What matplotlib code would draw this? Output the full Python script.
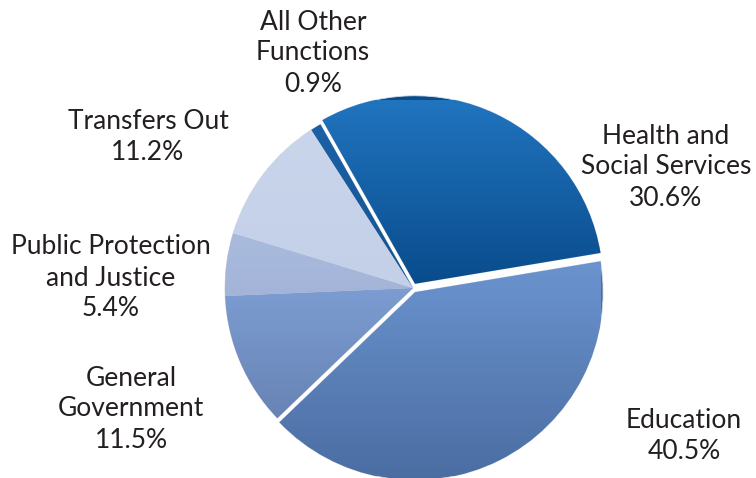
import numpy as np
import matplotlib
matplotlib.use('Agg')
import matplotlib.pyplot as plt
from matplotlib.colors import LinearSegmentedColormap

# share of spending by function (percent), clockwise from the top
labels = ['Health and\nSocial Services', 'Education', 'General\nGovernment',
          'Public Protection\nand Justice', 'Transfers Out', 'All Other\nFunctions']
values = [30.6, 40.5, 11.5, 5.4, 11.2, 0.9]

# top / bottom colour of the vertical gradient on each slice
grad = [('#2175c0', '#094c8c'),
        ('#6b94cf', '#4a6ca1'),
        ('#7c9dd2', '#6883b4'),
        ('#a9bbdd', '#a3b4d8'),
        ('#c9d5eb', '#c3d0e8'),
        ('#1c61a6', '#13548f')]
explode = [0.025, 0.025, 0, 0, 0, 0]

# label anchor points in pixels (x, y from top)
label_xy = [(666, 167), (684, 436), (131, 409), (111, 278), (148, 137), (313, 53)]

W, H = 756, 478
fig = plt.figure(figsize=(W / 100, H / 100), dpi=100)
r = 188
cx, cy = 413, 288
ax = fig.add_axes([(cx - r) / W, (H - cy - r) / H, 2 * r / W, 2 * r / H])

wedges, _ = ax.pie(values, startangle=119.5, counterclock=False,
                   explode=explode, radius=1.0,
                   wedgeprops=dict(edgecolor='#d8dce4', linewidth=0.6))

g = np.linspace(0, 1, 256).reshape(-1, 1)
for w, (c0, c1) in zip(wedges, grad):
    w.set_facecolor(c1)
    v = w.get_path().vertices
    x0, x1 = v[:, 0].min(), v[:, 0].max()
    y0, y1 = v[:, 1].min(), v[:, 1].max()
    cmap = LinearSegmentedColormap.from_list('g', [c0, c1])
    im = ax.imshow(g, cmap=cmap, extent=[x0, x1, y0, y1], origin='upper',
                   aspect='auto', zorder=w.get_zorder() + 0.1,
                   interpolation='bilinear')
    im.set_clip_path(w)

ax.set_xlim(-1.0, 1.0)
ax.set_ylim(-1.0, 1.0)
ax.set_aspect('equal')
ax.axis('off')

for (lx, ly), lab, val in zip(label_xy, labels, values):
    fig.text(lx / W, 1 - ly / H, f'{lab}\n{val}%', ha='center', va='center',
             fontsize=19, family='Lato', color='#231f20', linespacing=1.3)

fig.savefig('out.png', dpi=100)
